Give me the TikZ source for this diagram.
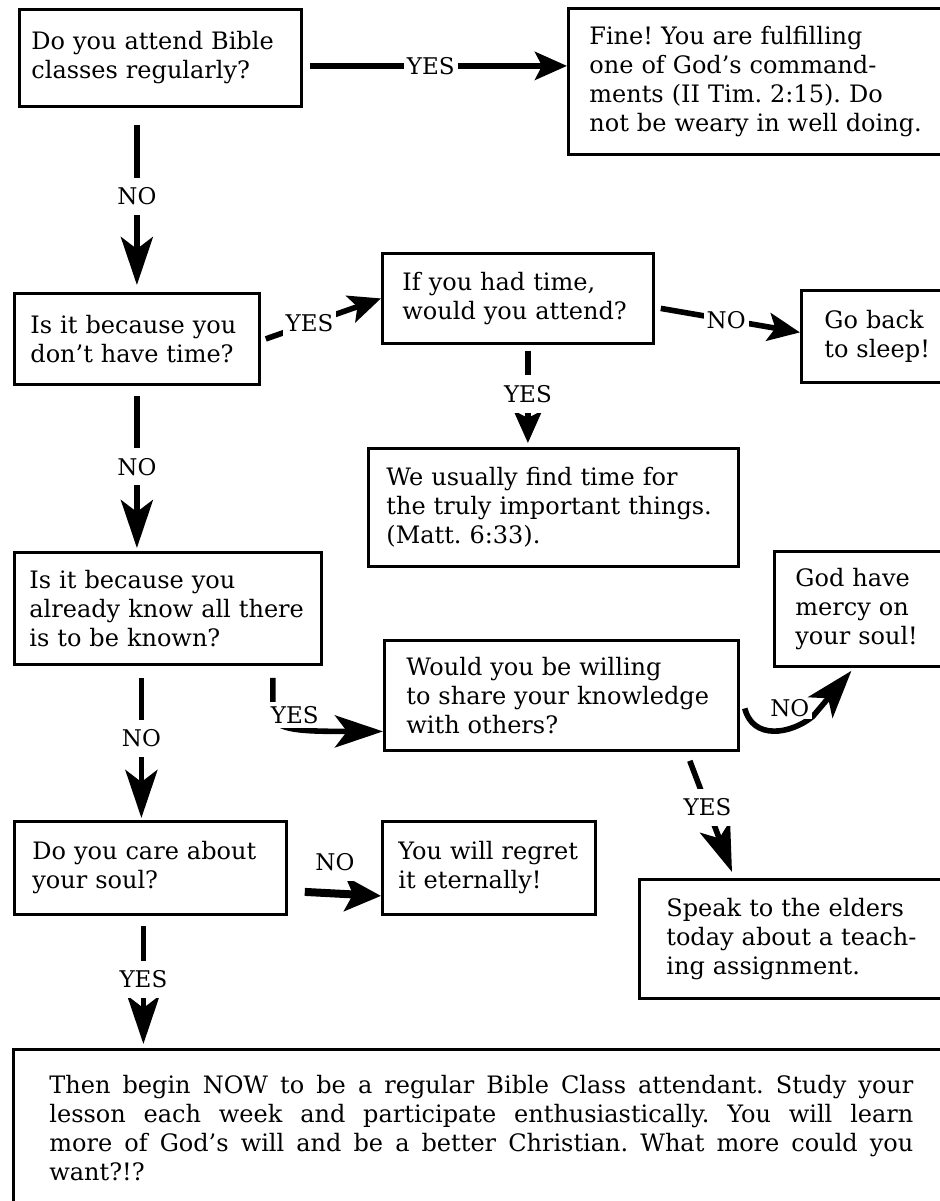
\documentclass[tikz,border=0pt]{standalone}
\usepackage{fontspec}
\setmainfont{DejaVu Serif}
\usetikzlibrary{
  arrows.meta
}
\frenchspacing
\newcommand{\flowtext}{\fontsize{12}{14.5}\selectfont}
\newcommand{\flowlabel}{\fontsize{11.5}{12}\selectfont}
\tikzset{
  qbox/.style={draw, line width=1.4pt, anchor=north west, align=left, font=\flowtext},
  lbl/.style={fill=white, inner xsep=1.5pt, inner ysep=5pt, font=\flowlabel},
  arr/.style={line width=2.8pt, -{Stealth[length=16pt, width=14pt, inset=3.5pt]}},
  longarr/.style={line width=2.8pt, -{Stealth[length=24pt, width=16pt, inset=6pt]}},
}

\begin{document}
\begin{tikzpicture}[x=0.5pt, y=-0.5pt]
      \useasboundingbox (0,0) rectangle (940,1201);
      \clip (0,0) rectangle (940,1201);

      % questions and answers
      \node (A) [qbox, minimum width=141pt, minimum height=48.5pt, inner xsep=6pt, text width=129pt] at (18,8) {
        Do you attend Bible\\ classes regularly?
      };
      \node (F) [qbox, minimum width=211pt, minimum height=73pt, inner xsep=10.5pt, text width=190pt] at (567,7) {
        Fine! You are fulfilling\\ one of God’s command-\\ ments (II Tim. 2:15). Do\\ not be weary in well doing.
      };
      \node (B) [qbox, minimum width=122.5pt, minimum height=45.5pt, inner xsep=8pt, text width=106.5pt] at (13,292) {
        Is it because you\\ don’t have time?
      };
      \node (C) [qbox, minimum width=135.5pt, minimum height=45pt, inner xsep=10pt, text width=115.5pt] at (381,252) {
        If you had time,\\ would you attend?
      };
      \node (D) [qbox, minimum width=103pt, minimum height=46pt, inner xsep=11.5pt, text width=80pt] at (800,289) {
        Go back\\ to sleep!
      };
      \node (E) [qbox, minimum width=185pt, minimum height=59pt, inner xsep=9pt, text width=167pt] at (367,447) {
        We usually find time for\\ the truly important things.\\ (Matt. 6:33).
      };
      \node (G) [qbox, minimum width=153.5pt, minimum height=56pt, inner xsep=7.5pt, text width=138.5pt] at (13,551) {
        Is it because you\\ already know all there\\ is to be known?
      };
      \node (H) [qbox, minimum width=177pt, minimum height=55pt, inner xsep=11pt, text width=155pt] at (383,639) {
        Would you be willing\\ to share your knowledge\\ with others?
      };
      \node (I) [qbox, minimum width=111pt, minimum height=57.5pt, inner xsep=10.5pt, text width=90pt] at (773,550) {
        God have\\ mercy on\\ your soul!
      };
      \node (J) [qbox, minimum width=177pt, minimum height=59.5pt, inner xsep=13.5pt, text width=150pt] at (638,878) {
        Speak to the elders\\ today about a teach-\\ ing assignment.
      };
      \node (K) [qbox, minimum width=136pt, minimum height=46.5pt, inner xsep=9pt, text width=118pt] at (13,820) {
        Do you care about\\ your soul?
      };
      \node (L) [qbox, minimum width=106.5pt, minimum height=46.5pt, inner xsep=8pt, text width=90.5pt] at (381,820) {
        You will regret\\ it eternally!
      };
      \node (M) [qbox, minimum width=468pt, minimum height=79pt, inner xsep=18pt, text width=432pt, align=justify] at (12,1048) {
        Then begin NOW to be a regular Bible Class attendant. Study your\linebreak
        lesson each week and participate enthusiastically. You will learn\linebreak
        more of God’s will and be a better Christian. What more could you\linebreak
        want?!?
      };

      % connectors
      \coordinate (a1) at ([xshift=3.5pt,yshift=-4pt]A.east);
      \draw[arr] (a1) -- node[lbl, pos=0.47]{YES} (a1 -| F.west);
      \draw[longarr, shorten <=8.5pt, shorten >=3.5pt] (B.north |- A.south) -- node[lbl, pos=0.48]{NO} (B.north);
      \draw[arr] ([xshift=2.5pt]B.east) -- node[lbl, pos=0.38]{YES} (C.west);
      \draw[arr] ([xshift=3pt,yshift=-5pt]C.east) -- node[lbl, pos=0.47]{NO} ([yshift=2pt]D.west);
      \coordinate (c1) at ([xshift=5pt]C.south);
      \draw[arr, shorten <=3pt, shorten >=2pt] (c1) -- node[lbl, pos=0.48]{YES} (c1 |- E.north);
      \draw[longarr, shorten <=5pt, shorten >=1.5pt] (B.south) -- node[lbl, pos=0.49]{NO} (B.south |- G.north);

      \coordinate (g1) at ([xshift=-25pt,yshift=-6pt]G.south east);
      \draw[longarr] (g1) -- ++(0,37) node[lbl, inner ysep=2pt, xshift=11pt]{YES}
        .. controls +(1,16) and +(-80,0) .. ([yshift=-18pt]H.west);
      \coordinate (h1) at ([xshift=2.5pt,yshift=-6.5pt]H.east);
      \draw[longarr] (h1) .. controls +(8,32) and +(-22,18) .. ++(68,8)
        node[lbl, inner ysep=1pt, xshift=-11.5pt, yshift=4pt]{NO} -- ([xshift=-17pt,yshift=-1.5pt]I.south);
      \draw[longarr] ([xshift=-25pt,yshift=-4.5pt]H.south east) -- node[lbl, pos=0.42]{YES} ([xshift=47pt,yshift=3pt]J.north west);

      \coordinate (k1) at ([xshift=-4.5pt]K.north);
      \draw[longarr, shorten <=6pt, shorten >=1pt] (k1 |- G.south) -- node[lbl, pos=0.47]{NO} (k1);
      \draw[line width=4pt, -{Stealth[length=18pt, width=17pt, inset=4pt]}] ([xshift=8.5pt,yshift=-12pt]K.east)
        -- node[lbl, above=4.5pt, xshift=-4pt]{NO} ([yshift=-14pt]L.west);
      \coordinate (m1) at ([xshift=-3.5pt]K.south);
      \draw[longarr, shorten <=5pt, shorten >=2pt] (m1) -- node[lbl, pos=0.48]{YES} (m1 |- M.north);
\end{tikzpicture}
\end{document}
